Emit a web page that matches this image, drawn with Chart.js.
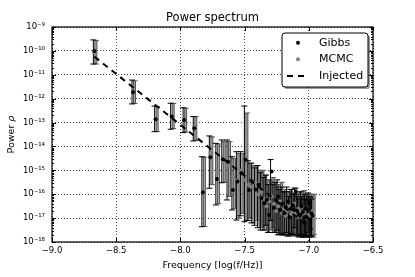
<!DOCTYPE html>
<html>
<head>
<meta charset="utf-8">
<script src="https://cdn.jsdelivr.net/npm/chart.js@4.4.0/dist/chart.umd.min.js"></script>
<style>
    body { margin: 0; background: #fff; }
    canvas { display: block; }
</style>
</head>
<body>
<canvas id="chart" width="415" height="277"></canvas>
<script>
// log10 of frequency (Hz) for each bin
const freqs = [
    -8.670, -8.369, -8.193, -8.068, -7.971, -7.892, -7.825, -7.767, -7.716, -7.670,
    -7.629, -7.591, -7.556, -7.524, -7.494, -7.466, -7.440, -7.415, -7.391, -7.369,
    -7.348, -7.328, -7.308, -7.290, -7.272, -7.255, -7.239, -7.223, -7.208, -7.193,
    -7.179, -7.165, -7.151, -7.139, -7.126, -7.114, -7.102, -7.090, -7.079, -7.068,
    -7.057, -7.047, -7.037, -7.027, -7.017, -7.007, -6.998, -6.989, -6.980, -6.971
];

// power values, given as exponents of 10
const gibbsExp = [
    -10.00, -11.73, -12.86, -12.75, -12.89, -13.24, -15.92, -14.45, -15.36, -14.54,
    -14.64, -15.82, -15.47, -15.12, -14.56, -15.82, -15.47, -15.80, -15.60, -16.17,
    -16.38, -16.24, -16.87, -15.05, -16.57, -16.24, -16.10, -16.66, -16.40, -16.80,
    -16.55, -16.30, -16.95, -16.60, -16.45, -16.66, -15.90, -16.70, -16.85, -16.90,
    -16.50, -16.75, -17.00, -16.60, -16.95, -16.70, -16.38, -17.05, -16.80, -16.90
];
const gibbsHiExp = [
    -9.54, -11.22, -12.31, -12.19, -12.38, -12.75, -14.43, -13.56, -13.87, -13.73,
    -13.73, -14.43, -14.22, -14.22, -12.31, -14.60, -14.70, -14.90, -14.80, -15.10,
    -15.30, -15.20, -15.60, -14.55, -15.60, -15.50, -15.40, -15.80, -15.70, -15.90,
    -15.90, -15.70, -16.10, -15.90, -15.80, -16.00, -15.74, -16.00, -16.10, -16.20,
    -15.90, -16.10, -16.20, -16.00, -16.20, -16.10, -15.95, -16.25, -16.10, -16.20
];
const gibbsLoExp = [
    -10.55, -12.22, -13.38, -13.28, -13.42, -13.77, -17.36, -15.75, -16.45, -15.52,
    -16.24, -16.66, -17.08, -16.90, -17.15, -17.10, -17.20, -17.30, -17.40, -17.50,
    -17.50, -17.30, -17.60, -17.10, -17.60, -17.60, -17.50, -17.70, -17.65, -17.70,
    -17.70, -17.60, -17.75, -17.70, -17.65, -17.70, -17.40, -17.70, -17.75, -17.75,
    -17.70, -17.75, -17.80, -17.70, -17.75, -17.75, -17.60, -17.80, -17.75, -17.75
];

const mcmcExp = [
    -10.06, -11.50, -12.85, -12.80, -12.92, -13.20, -15.90, -14.30, -15.10, -14.62,
    -14.75, -15.30, -15.40, -15.00, -15.40, -15.60, -15.70, -15.50, -16.00, -15.90,
    -16.20, -16.50, -16.30, -16.10, -16.40, -16.70, -16.50, -16.30, -16.80, -16.60,
    -16.90, -16.70, -16.50, -16.85, -16.75, -16.40, -16.80, -16.95, -16.60, -16.70,
    -16.95, -16.55, -16.80, -17.00, -16.70, -16.90, -16.75, -16.85, -16.95, -16.70
];
const mcmcHiExp = [
    -9.57, -11.25, -12.33, -12.20, -12.40, -12.75, -14.45, -13.60, -13.90, -13.80,
    -13.80, -14.50, -14.30, -14.30, -12.60, -14.70, -14.80, -14.80, -15.00, -15.00,
    -15.20, -15.40, -15.40, -15.30, -15.50, -15.70, -15.60, -15.50, -15.90, -15.80,
    -16.00, -15.90, -15.80, -16.00, -15.95, -15.75, -16.00, -16.10, -15.90, -16.00,
    -16.10, -15.85, -16.05, -16.20, -16.00, -16.10, -16.00, -16.10, -16.15, -16.00
];
const mcmcLoExp = [
    -10.55, -12.20, -13.38, -13.25, -13.40, -13.75, -17.35, -15.60, -16.40, -15.50,
    -16.10, -16.60, -17.00, -16.80, -17.10, -17.00, -17.20, -17.10, -17.40, -17.40,
    -17.50, -17.60, -17.50, -17.40, -17.60, -17.70, -17.60, -17.60, -17.70, -17.70,
    -17.75, -17.70, -17.65, -17.75, -17.70, -17.60, -17.70, -17.80, -17.70, -17.70,
    -17.80, -17.65, -17.75, -17.80, -17.70, -17.75, -17.70, -17.75, -17.80, -17.70
];

// injected power law, end points
const injFreqs = [-8.670, -6.971];
const injExp = [-10.24, -17.48];

const xTicks = [-9.0, -8.5, -8.0, -7.5, -7.0, -6.5];
const yTicks = [-18, -17, -16, -15, -14, -13, -12, -11, -10, -9];

const FONT = 'DejaVu Sans';
const MCMC_COLOR = '#808080';

function pow10(e) { return Math.pow(10, e); }

function superscript(n) {
    const map = { '-': '\u207B', '0': '\u2070', '1': '\u00B9', '2': '\u00B2', '3': '\u00B3',
        '4': '\u2074', '5': '\u2075', '6': '\u2076', '7': '\u2077', '8': '\u2078', '9': '\u2079' };
    return String(n).split('').map(function (c) { return map[c]; }).join('');
}

function points(xs, exps) {
    return xs.map(function (f, i) { return { x: f, y: pow10(exps[i]) }; });
}

// error bars, frame, inward ticks, titles and the legend box
const decorations = {
    id: 'decorations',
    beforeDatasetsDraw(chart) {
        const { ctx, chartArea, scales: { x, y } } = chart;
        ctx.save();
        ctx.beginPath();
        ctx.rect(chartArea.left, chartArea.top, chartArea.width, chartArea.height);
        ctx.clip();

        freqs.forEach(function (f, i) {
            const px = x.getPixelForValue(f) + 1.5;
            const top = y.getPixelForValue(pow10(mcmcHiExp[i]));
            const bot = y.getPixelForValue(pow10(mcmcLoExp[i]));
            ctx.strokeStyle = '#4a4a4a';
            ctx.lineWidth = 3;
            ctx.beginPath();
            ctx.moveTo(px, top); ctx.lineTo(px, bot);
            ctx.stroke();
            ctx.strokeStyle = '#a8a8a8';
            ctx.lineWidth = 1.2;
            ctx.beginPath();
            ctx.moveTo(px, top + 0.5); ctx.lineTo(px, bot - 0.5);
            ctx.stroke();
            ctx.strokeStyle = '#555';
            ctx.lineWidth = 1;
            ctx.beginPath();
            ctx.moveTo(px - 3, top); ctx.lineTo(px + 3, top);
            ctx.moveTo(px - 3, bot); ctx.lineTo(px + 3, bot);
            ctx.stroke();
        });

        freqs.forEach(function (f, i) {
            const px = x.getPixelForValue(f) - 1;
            const top = y.getPixelForValue(pow10(gibbsHiExp[i]));
            const bot = y.getPixelForValue(pow10(gibbsLoExp[i]));
            ctx.strokeStyle = '#000';
            ctx.lineWidth = 1;
            ctx.beginPath();
            ctx.moveTo(px, top); ctx.lineTo(px, bot);
            ctx.moveTo(px - 3, top); ctx.lineTo(px + 3, top);
            ctx.moveTo(px - 3, bot); ctx.lineTo(px + 3, bot);
            ctx.stroke();
        });
        ctx.restore();
    },
    afterDraw(chart) {
        const { ctx, chartArea: a, scales: { x, y } } = chart;
        ctx.save();
        ctx.strokeStyle = '#000';
        ctx.lineWidth = 1;
        ctx.beginPath();
        xTicks.forEach(function (t) {
            const px = Math.round(x.getPixelForValue(t)) + 0.5;
            ctx.moveTo(px, a.bottom); ctx.lineTo(px, a.bottom - 4);
            ctx.moveTo(px, a.top); ctx.lineTo(px, a.top + 4);
        });
        yTicks.forEach(function (e) {
            const py = Math.round(y.getPixelForValue(pow10(e))) + 0.5;
            ctx.moveTo(a.left, py); ctx.lineTo(a.left + 4, py);
            ctx.moveTo(a.right, py); ctx.lineTo(a.right - 4, py);
            if (e < -9) {
                for (let k = 2; k <= 9; k++) {
                    const my = Math.round(y.getPixelForValue(k * pow10(e))) + 0.5;
                    ctx.moveTo(a.left, my); ctx.lineTo(a.left + 2, my);
                    ctx.moveTo(a.right, my); ctx.lineTo(a.right - 2, my);
                }
            }
        });
        ctx.stroke();
        ctx.lineWidth = 1.2;
        ctx.strokeRect(a.left, a.top, a.width, a.height);

        // chart title, centred over the plot area
        ctx.fillStyle = '#000';
        ctx.textAlign = 'center';
        ctx.textBaseline = 'middle';
        ctx.font = '11.5px "' + FONT + '"';
        ctx.fillText('Power spectrum', (a.left + a.right) / 2, 18);

        // y axis title with italic rho
        ctx.save();
        ctx.translate(12, (a.top + a.bottom) / 2);
        ctx.rotate(-Math.PI / 2);
        ctx.font = '9.5px "' + FONT + '"';
        const w1 = ctx.measureText('Power ').width;
        ctx.font = 'italic 9.5px "' + FONT + '"';
        const w2 = ctx.measureText('\u03C1').width;
        ctx.textAlign = 'left';
        ctx.font = '9.5px "' + FONT + '"';
        ctx.fillText('Power ', -(w1 + w2) / 2, 0);
        ctx.font = 'italic 9.5px "' + FONT + '"';
        ctx.fillText('\u03C1', -(w1 + w2) / 2 + w1, 0);
        ctx.restore();

        // legend
        const lx = 282, ly = 33, lw = 86, lh = 54;
        ctx.fillStyle = 'rgba(0,0,0,0.4)';
        ctx.beginPath();
        ctx.roundRect(lx + 2, ly + 2, lw, lh, 3);
        ctx.fill();
        ctx.fillStyle = '#fff';
        ctx.strokeStyle = '#000';
        ctx.lineWidth = 1;
        ctx.beginPath();
        ctx.roundRect(lx, ly, lw, lh, 3);
        ctx.fill();
        ctx.stroke();

        const rows = [42.7, 59.3, 76];
        ctx.fillStyle = '#000';
        ctx.beginPath(); ctx.arc(298, rows[0], 2, 0, Math.PI * 2); ctx.fill();
        ctx.fillStyle = MCMC_COLOR;
        ctx.beginPath(); ctx.arc(298, rows[1], 2, 0, Math.PI * 2); ctx.fill();
        ctx.strokeStyle = '#000';
        ctx.lineWidth = 2;
        ctx.setLineDash([6, 5]);
        ctx.beginPath(); ctx.moveTo(287, rows[2]); ctx.lineTo(304, rows[2]); ctx.stroke();
        ctx.setLineDash([]);

        ctx.fillStyle = '#000';
        ctx.font = '11px "' + FONT + '"';
        ctx.textBaseline = 'middle';
        ctx.textAlign = 'left';
        chart.data.datasets.forEach(function (ds, i) {
            ctx.fillText(ds.label, 319, rows[i]);
        });
        ctx.restore();
    }
};

const ctx = document.getElementById('chart').getContext('2d');

new Chart(ctx, {
    type: 'scatter',
    data: {
        datasets: [{
            label: 'Gibbs',
            data: points(freqs, gibbsExp),
            backgroundColor: '#000',
            borderColor: '#000',
            pointRadius: 2,
            borderWidth: 0,
            order: 1
        }, {
            label: 'MCMC',
            data: points(freqs, mcmcExp),
            backgroundColor: MCMC_COLOR,
            borderColor: MCMC_COLOR,
            pointRadius: 2,
            borderWidth: 0,
            order: 2
        }, {
            label: 'Injected',
            type: 'line',
            data: points(injFreqs, injExp),
            borderColor: '#000',
            borderWidth: 2,
            borderDash: [6, 5],
            pointRadius: 0,
            fill: false,
            order: 0
        }]
    },
    options: {
        responsive: false,
        animation: false,
        devicePixelRatio: 1,
        layout: { padding: { left: 0, right: 42, top: 27, bottom: 0 } },
        plugins: {
            legend: { display: false },
            tooltip: { enabled: false },
            title: { display: false }
        },
        scales: {
            x: {
                type: 'linear',
                min: -9,
                max: -6.5,
                afterBuildTicks: function (scale) {
                    scale.ticks = xTicks.map(function (v) { return { value: v }; });
                },
                afterFit: function (scale) { scale.height = 35; },
                ticks: {
                    color: '#000',
                    padding: 4,
                    font: { family: FONT, size: 8.5 },
                    callback: function (v) {
                        return (v < 0 ? '\u2212' : '') + Math.abs(v).toFixed(1);
                    }
                },
                grid: { color: '#444', lineWidth: 1, drawTicks: false },
                border: { display: false, dash: [1, 2] },
                title: {
                    display: true,
                    text: 'Frequency [log(f/Hz)]',
                    color: '#000',
                    font: { family: FONT, size: 9.5 },
                    padding: { top: 0, bottom: 6 }
                }
            },
            y: {
                type: 'logarithmic',
                min: 1e-18,
                max: 1e-9,
                afterBuildTicks: function (scale) {
                    scale.ticks = yTicks.map(function (e) { return { value: pow10(e) }; });
                },
                afterFit: function (scale) { scale.width = 52; },
                ticks: {
                    color: '#000',
                    padding: 7,
                    autoSkip: false,
                    font: { family: FONT, size: 8.5 },
                    callback: function (v) {
                        return '10' + superscript(Math.round(Math.log10(v)));
                    }
                },
                grid: { color: '#444', lineWidth: 1, drawTicks: false },
                border: { display: false, dash: [1, 2] }
            }
        }
    },
    plugins: [decorations]
});
</script>
</body>
</html>
